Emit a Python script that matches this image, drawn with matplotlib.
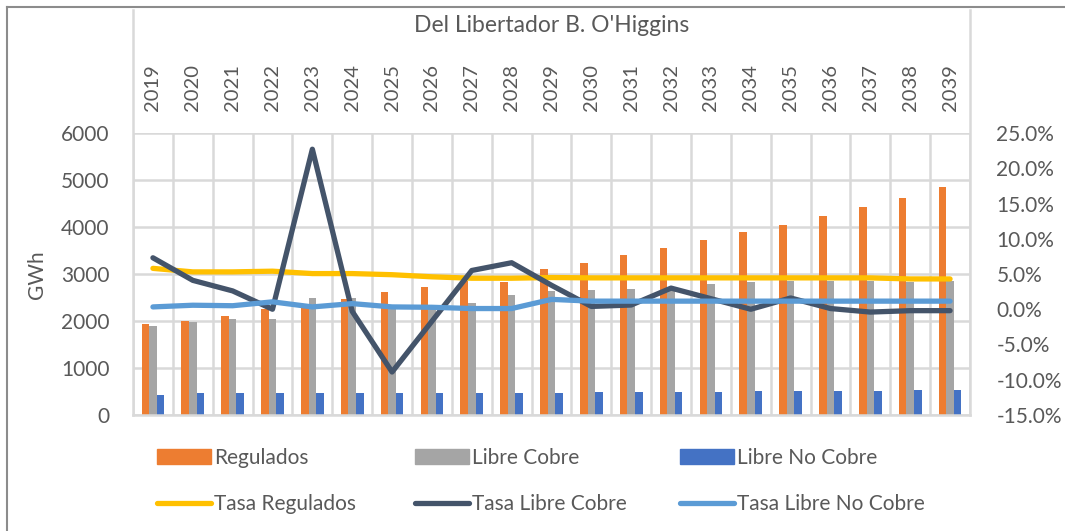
import matplotlib
matplotlib.use("Agg")
import matplotlib.pyplot as plt
from matplotlib.lines import Line2D
from matplotlib.patches import Patch
import numpy as np

plt.rcParams['font.family'] = ['Lato', 'DejaVu Sans']

years = [str(y) for y in range(2019, 2040)]

# GWh
regulados = [1930, 2006, 2113, 2248, 2270, 2468, 2610, 2716, 2855, 2840, 3100,
             3235, 3397, 3560, 3723, 3887, 4050, 4241, 4433, 4624, 4844]
libre_cobre = [1894, 1979, 2036, 2036, 2496, 2500, 2290, 2350, 2390, 2553, 2640,
               2660, 2688, 2720, 2794, 2823, 2858, 2858, 2858, 2840, 2858]
libre_no_cobre = [425, 461, 461, 461, 461, 461, 461, 461, 461, 461, 461,
                  482, 482, 482, 482, 510, 510, 510, 510, 539, 539]

# tasas (%)
tasa_reg = [5.8, 5.3, 5.3, 5.4, 5.06, 5.06, 4.9, 4.6, 4.4, 4.4, 4.5,
            4.45, 4.45, 4.45, 4.45, 4.45, 4.45, 4.45, 4.45, 4.3, 4.3]
tasa_lc = [7.3, 4.1, 2.6, 0.0, 22.7, -0.3, -8.9, -1.7, 5.5, 6.6, 3.4,
           0.4, 0.6, 3.0, 1.5, 0.0, 1.6, 0.1, -0.4, -0.2, -0.2]
tasa_lnc = [0.33, 0.57, 0.5, 1.05, 0.33, 0.8, 0.33, 0.28, 0.1, 0.1, 1.4,
            1.15, 1.15, 1.15, 1.15, 1.15, 1.15, 1.15, 1.15, 1.15, 1.15]

c_reg = '#ED7D31'
c_lc = '#A5A5A5'
c_lnc = '#4472C4'
c_treg = '#FFC000'
c_tlc = '#44546A'
c_tlnc = '#5B9BD5'
grid_c = '#D9D9D9'
txt_c = '#595959'
fs = 15

W, H = 1065, 531
fig = plt.figure(figsize=(W / 100, H / 100), dpi=100)
ax = fig.add_axes([133 / W, 1 - 415 / H, (970 - 133) / W, (415 - 133) / H])
ax2 = ax.twinx()

x = np.arange(len(years))
bw = 0.19
ax.bar(x - bw, regulados, bw, color=c_reg)
ax.bar(x, libre_cobre, bw, color=c_lc)
ax.bar(x + bw, libre_no_cobre, bw, color=c_lnc)

lw = 3.8
ax2.plot(x, tasa_reg, color=c_treg, lw=lw, solid_capstyle='round')
ax2.plot(x, tasa_lc, color=c_tlc, lw=lw, solid_capstyle='round')
ax2.plot(x, tasa_lnc, color=c_tlnc, lw=lw, solid_capstyle='round')

ax.set_xlim(-0.5, len(years) - 0.5)
ax.set_ylim(0, 6000)
ax.set_yticks(range(0, 6001, 1000))
ax2.set_ylim(-15, 25)
ax2.set_yticks(range(-15, 26, 5))
ax2.set_yticklabels([f'{v:.1f}%' for v in range(-15, 26, 5)])

ax.xaxis.tick_top()
ax.set_xticks(x)
ax.set_xticklabels(years, rotation=90, fontsize=14.5, color=txt_c)
ax.set_xticks(np.arange(-0.5, len(years), 1), minor=True)
ax.tick_params(axis='x', which='both', length=0, pad=16)
ax.tick_params(axis='y', length=0, pad=17, labelsize=fs, labelcolor=txt_c)
ax2.tick_params(axis='y', length=0, pad=19, labelsize=fs, labelcolor=txt_c)

ax.set_axisbelow(True)
ax.grid(True, axis='y', color=grid_c, lw=1.8)
ax.grid(True, axis='x', which='minor', color=grid_c, lw=1.8)
for a in (ax, ax2):
    for s in a.spines.values():
        s.set_visible(False)
ax.spines['bottom'].set_visible(True)
ax.spines['bottom'].set_color(grid_c)
ax.spines['bottom'].set_linewidth(1.8)

# side lines of the top label box
fig.add_artist(Line2D([133 / W, 133 / W], [1 - 10 / H, 1 - 415 / H], color=grid_c, lw=1.8))
fig.add_artist(Line2D([970 / W, 970 / W], [1 - 10 / H, 1 - 415 / H], color=grid_c, lw=1.8))
# outer chart border (top & left)
fig.add_artist(Line2D([7 / W, 1], [1 - 7 / H, 1 - 7 / H], color='#8C8C8C', lw=1.5))
fig.add_artist(Line2D([7 / W, 7 / W], [0, 1 - 7 / H], color='#8C8C8C', lw=1.5))

fig.text(551.5 / W, 1 - 26 / H, "Del Libertador B. O'Higgins", ha='center', va='center',
         fontsize=16.5, color=txt_c)
fig.text(37 / W, 1 - 275 / H, 'GWh', rotation=90, ha='center', va='center',
         fontsize=fs, color=txt_c)

# legend: three columns placed at their own x positions
cols = [
    (157, [Patch(color=c_reg), Line2D([], [], color=c_treg, lw=lw, solid_capstyle='round')],
     ['Regulados', 'Tasa Regulados']),
    (415, [Patch(color=c_lc), Line2D([], [], color=c_tlc, lw=lw, solid_capstyle='round')],
     ['Libre Cobre', 'Tasa Libre Cobre']),
    (680, [Patch(color=c_lnc), Line2D([], [], color=c_tlnc, lw=lw, solid_capstyle='round')],
     ['Libre No Cobre', 'Tasa Libre No Cobre']),
]
for xpos, hs, ls in cols:
    leg = fig.legend(hs, ls, ncol=1, loc='upper left',
                     bbox_to_anchor=(xpos / W, 1 - 448 / H), frameon=False,
                     fontsize=fs, handlelength=2.6, handleheight=0.7,
                     handletextpad=0.15, labelspacing=1.25, borderpad=0,
                     borderaxespad=0)
    for t in leg.get_texts():
        t.set_color(txt_c)

fig.savefig('out.png', dpi=100)
